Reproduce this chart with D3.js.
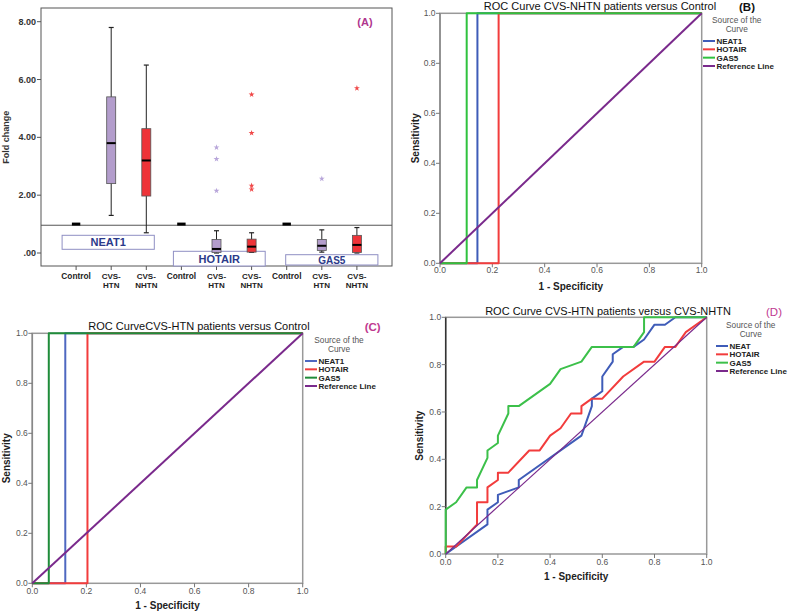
<!DOCTYPE html>
<html><head><meta charset="utf-8">
<script src="https://cdn.jsdelivr.net/npm/d3@7"></script>
<style>body{margin:0;background:#fff}svg{display:block}text{font-family:Arial,"Liberation Sans",sans-serif}</style>
</head><body><svg id="c" width="789" height="613"></svg>
<script>
// ---------- Panel A data ----------
const genes = ["NEAT1","HOTAIR","GAS5"];
const groups = ["Control","CVS-HTN","CVS-NHTN"];
const boxLow    = [1.0, 1.30, 0.70, 1.0, 0.00, 0.02, 1.0, 0.03, 0.00];
const boxQ1     = [1.0, 2.40, 1.97, 1.0, 0.02, 0.03, 1.0, 0.09, 0.02];
const boxMedian = [1.0, 3.80, 3.20, 1.0, 0.14, 0.22, 1.0, 0.25, 0.28];
const boxQ3     = [1.0, 5.40, 4.30, 1.0, 0.47, 0.48, 1.0, 0.47, 0.61];
const boxHigh   = [1.0, 7.80, 6.50, 1.0, 0.77, 0.70, 1.0, 0.80, 0.88];
const outlierIdx = [4, 4, 4, 5, 5, 5, 5, 7, 8];
const outlierVal = [3.65, 3.25, 2.15, 5.48, 4.15, 2.33, 2.20, 2.57, 5.70];
const foldTicks = [0, 2, 4, 6, 8];
const foldTickLabels = [".00", "2.00", "4.00", "6.00", "8.00"];

// ---------- ROC data ----------
const rocTicks = [0, 0.2, 0.4, 0.6, 0.8, 1.0];
const legendBC = ["NEAT1", "HOTAIR", "GAS5", "Reference Line"];
const legendD  = ["NEAT", "HOTAIR", "GAS5", "Reference Line"];
const refLine = [[0,0],[1,1]];

const rocB_NEAT1  = [[0,0],[0.143,0],[0.143,1],[1,1]];
const rocB_HOTAIR = [[0,0],[0.224,0],[0.224,1],[1,1]];
const rocB_GAS5   = [[0,0],[0.102,0],[0.102,1],[1,1]];

const rocC_NEAT1  = [[0,0],[0.122,0],[0.122,1],[1,1]];
const rocC_HOTAIR = [[0,0],[0.204,0],[0.204,1],[1,1]];
const rocC_GAS5   = [[0,0],[0.061,0],[0.061,1],[1,1]];

const rocD_NEAT = [[0,0],[0.16,0.125],[0.16,0.1875],[0.2,0.21875],[0.2,0.25],[0.28,0.28125],[0.28,0.3125],
  [0.52,0.5],[0.56,0.625],[0.56,0.65625],[0.6,0.6875],[0.6,0.75],[0.64,0.8125],[0.64,0.84375],[0.68,0.875],
  [0.72,0.875],[0.76,0.90625],[0.8,0.96875],[0.84,0.96875],[0.88,1],[1,1]];
const rocD_HOTAIR = [[0,0],[0,0.03125],[0.04,0.03125],[0.12,0.125],[0.12,0.21875],[0.16,0.21875],[0.16,0.28125],
  [0.2,0.3125],[0.2,0.34375],[0.24,0.34375],[0.32,0.4375],[0.36,0.4375],[0.4,0.5],[0.44,0.53125],[0.48,0.59375],
  [0.52,0.59375],[0.52,0.625],[0.56,0.65625],[0.6,0.65625],[0.68,0.75],[0.76,0.8125],[0.8,0.8125],[0.84,0.875],
  [0.88,0.875],[0.92,0.9375],[1,1]];
const rocD_GAS5 = [[0,0],[0,0.1875],[0.04,0.21875],[0.08,0.28125],[0.12,0.28125],[0.12,0.3125],[0.16,0.40625],
  [0.16,0.4375],[0.2,0.46875],[0.2,0.5],[0.24,0.59375],[0.24,0.625],[0.28,0.625],[0.4,0.71875],[0.44,0.78125],
  [0.52,0.8125],[0.56,0.875],[0.72,0.875],[0.76,0.9375],[0.76,1],[1,1]];

const svg = d3.select("#c");
svg.append("rect").attr("width",789).attr("height",613).attr("fill","#fff");

// ================= Panel A =================
(function(){
  const L=41, R=392, T=8, B=266;
  const cats = d3.range(genes.length*groups.length);
  const x = d3.scalePoint().domain(cats).range([L,R]).padding(1);
  const y = d3.scaleLinear().domain([0,8]).range([253,21.7]);
  const g = svg.append("g");
  const fills = ["#000","#b39dcc","#ee3338"];
  const starCol = ["#000","#b8a6da","#f04848"];

  g.append("rect").attr("x",L).attr("y",T).attr("width",R-L).attr("height",B-T)
    .attr("fill","none").attr("stroke","#555").attr("stroke-width",1);
  g.append("line").attr("x1",L).attr("x2",R).attr("y1",y(0.96)).attr("y2",y(0.96))
    .attr("stroke","#555").attr("stroke-width",1);

  foldTicks.forEach((v,i)=>{
    g.append("line").attr("x1",L-4).attr("x2",L).attr("y1",y(v)).attr("y2",y(v)).attr("stroke","#555");
    g.append("text").attr("x",L-5).attr("y",y(v)+3).attr("text-anchor","end")
      .attr("font-size",9).attr("font-weight","bold").attr("fill","#333").text(foldTickLabels[i]);
  });
  g.append("text").attr("transform",`translate(9,${y(4)}) rotate(-90)`).attr("text-anchor","middle")
    .attr("font-size",9).attr("font-weight","bold").attr("fill","#333").text("Fold change");

  cats.forEach(c=>{
    const grp = groups[c%3];
    g.append("line").attr("x1",x(c)).attr("x2",x(c)).attr("y1",B).attr("y2",B+4).attr("stroke","#555");
    if(grp==="Control"){
      g.append("text").attr("text-anchor","middle").attr("font-size",8.3).attr("font-weight","bold")
        .attr("fill","#222").attr("x",x(c)).attr("y",278.5).text(grp);
    } else {
      const parts = grp.split("-");
      g.append("text").attr("text-anchor","middle").attr("font-size",8).attr("font-weight","bold")
        .attr("fill","#222").attr("x",x(c)).attr("y",278.5).text(parts[0]+"-");
      g.append("text").attr("text-anchor","middle").attr("font-size",8).attr("font-weight","bold")
        .attr("fill","#222").attr("x",x(c)).attr("y",287.5).text(parts[1]);
    }
  });

  const lb = [
    {name:genes[0], x0:x(0)-14, x1:x(2)+8, y0:235.3, y1:249.3},
    {name:genes[1], x0:x(3)-8, x1:x(5)+13.6, y0:251.3, y1:266},
    {name:genes[2], x0:x(6)-1, x1:x(8)+21, y0:254.7, y1:265}
  ];
  lb.forEach(d=>{
    g.append("rect").attr("x",d.x0).attr("y",d.y0).attr("width",d.x1-d.x0).attr("height",d.y1-d.y0)
      .attr("fill","#fff").attr("stroke","#8f8fc4").attr("stroke-width",1);
    g.append("text").attr("x",(d.x0+d.x1)/2).attr("y",(d.y0+d.y1)/2+4).attr("text-anchor","middle")
      .attr("font-size",d.name==="GAS5"?10:11).attr("font-weight","bold").attr("fill","#2b3a8a").text(d.name);
  });

  const bw = 9, cw = 5;
  cats.forEach(c=>{
    const k = c%3, cx = x(c);
    if(k===0){
      g.append("rect").attr("x",cx-4.2).attr("y",y(boxMedian[c])-1.5).attr("width",8.4).attr("height",3).attr("fill","#000");
      return;
    }
    g.append("line").attr("x1",cx).attr("x2",cx).attr("y1",y(boxHigh[c])).attr("y2",y(boxLow[c])).attr("stroke","#222");
    g.append("line").attr("x1",cx-cw/2).attr("x2",cx+cw/2).attr("y1",y(boxHigh[c])).attr("y2",y(boxHigh[c])).attr("stroke","#222").attr("stroke-width",1.2);
    g.append("line").attr("x1",cx-cw/2).attr("x2",cx+cw/2).attr("y1",y(boxLow[c])).attr("y2",y(boxLow[c])).attr("stroke","#222").attr("stroke-width",1.2);
    g.append("rect").attr("x",cx-bw/2).attr("y",y(boxQ3[c])).attr("width",bw).attr("height",y(boxQ1[c])-y(boxQ3[c]))
      .attr("fill",fills[k]).attr("stroke","#555").attr("stroke-width",0.8);
    g.append("line").attr("x1",cx-bw/2).attr("x2",cx+bw/2).attr("y1",y(boxMedian[c])).attr("y2",y(boxMedian[c]))
      .attr("stroke","#000").attr("stroke-width",2);
  });

  const star = d3.symbol().type(d3.symbolStar).size(11);
  outlierIdx.forEach((c,i)=>{
    g.append("path").attr("d",star).attr("transform",`translate(${x(c)},${y(outlierVal[i])})`)
      .attr("fill",starCol[c%3]);
  });

  g.append("text").attr("x",365).attr("y",26).attr("text-anchor","middle").attr("font-size",11)
    .attr("font-weight","bold").attr("fill","#b0368e").text("(A)");
})();

// ================= ROC panels =================
function rocPanel(cfg){
  const g = svg.append("g");
  const x = d3.scaleLinear().domain([0,1]).range([cfg.l,cfg.r]);
  const y = d3.scaleLinear().domain([0,1]).range([cfg.b,cfg.t]);
  g.append("rect").attr("x",cfg.l).attr("y",cfg.t).attr("width",cfg.r-cfg.l).attr("height",cfg.b-cfg.t)
    .attr("fill","none").attr("stroke","#999").attr("stroke-width",1.5);
  g.append("line").attr("x1",cfg.l).attr("x2",cfg.l).attr("y1",cfg.t).attr("y2",cfg.b).attr("stroke",cfg.axisCol).attr("stroke-width",1.5);
  const fmt = d3.format(".1f");
  rocTicks.forEach(v=>{
    g.append("line").attr("x1",cfg.l-4).attr("x2",cfg.l).attr("y1",y(v)).attr("y2",y(v)).attr("stroke","#777");
    g.append("text").attr("x",cfg.l-4.5).attr("y",y(v)+3).attr("text-anchor","end").attr("font-size",8.5)
      .attr("fill","#555").text(fmt(v));
    g.append("line").attr("x1",x(v)).attr("x2",x(v)).attr("y1",cfg.b).attr("y2",cfg.b+4).attr("stroke","#777");
    g.append("text").attr("x",x(v)).attr("y",cfg.tickY).attr("text-anchor","middle").attr("font-size",8.5)
      .attr("fill","#555").text(fmt(v));
  });
  const line = d3.line().x(d=>x(d[0])).y(d=>y(d[1]));
  cfg.curves.forEach((c,i)=>{
    g.append("path").datum(c).attr("d",line).attr("fill","none").attr("stroke",cfg.colors[i])
      .attr("stroke-width",2).attr("stroke-linejoin","round");
  });
  g.append("path").datum(refLine).attr("d",line).attr("fill","none").attr("stroke",cfg.colors[3]).attr("stroke-width",cfg.refW);

  g.append("text").attr("x",cfg.titleX).attr("y",cfg.titleY).attr("text-anchor","middle")
    .attr("font-size",11).attr("fill","#111").text(cfg.title);
  g.append("text").attr("x",cfg.tagX).attr("y",cfg.titleY+1).attr("text-anchor","middle")
    .attr("font-size",11.5).attr("font-weight",cfg.tagBold?"bold":"normal").attr("fill",cfg.tagCol).text(cfg.tag);
  g.append("text").attr("transform",`translate(${cfg.yLabX},${(cfg.t+cfg.b)/2}) rotate(-90)`).attr("text-anchor","middle")
    .attr("font-size",10).attr("font-weight","bold").attr("fill","#222").attr("dy","0.35em").text("Sensitivity");
  g.append("text").attr("x",(cfg.l+cfg.r)/2).attr("y",cfg.xLabY).attr("text-anchor","middle")
    .attr("font-size",10).attr("font-weight","bold").attr("fill","#222").text("1 - Specificity");

  g.append("text").attr("x",cfg.legX).attr("y",cfg.legY-0.5).attr("text-anchor","middle").attr("font-size",8.3)
    .attr("fill","#555").text("Source of the");
  g.append("text").attr("x",cfg.legX).attr("y",cfg.legY+8.8).attr("text-anchor","middle").attr("font-size",8.3)
    .attr("fill","#555").text("Curve");
  cfg.legend.forEach((name,i)=>{
    const yy = cfg.rowY + i*8.33;
    g.append("line").attr("x1",cfg.lineX).attr("x2",cfg.lineX+12).attr("y1",yy).attr("y2",yy)
      .attr("stroke",cfg.colors[i]).attr("stroke-width",2);
    g.append("text").attr("x",cfg.lineX+13.5).attr("y",yy+3).attr("font-size",8).attr("font-weight","bold")
      .attr("fill","#222").text(name);
  });
}

rocPanel({l:440,r:701.7,t:13.3,b:263.3,tickY:273,xLabY:290,yLabX:415,axisCol:"#888",
  curves:[rocB_NEAT1,rocB_HOTAIR,rocB_GAS5], colors:["#3f5cb8","#f23c3c","#2fc23f","#7a2a8c"], refW:2,
  title:"ROC Curve CVS-NHTN patients versus Control", titleX:600, titleY:10,
  tag:"(B)", tagX:747, tagBold:true, tagCol:"#111",
  legX:736.7, legY:23.5, rowY:41, lineX:703, legend:legendBC});

rocPanel({l:32.3,r:302.7,t:333.3,b:583.3,tickY:593.5,xLabY:609,yLabX:6,axisCol:"#888",
  curves:[rocC_NEAT1,rocC_HOTAIR,rocC_GAS5], colors:["#4f68c0","#f23c3c","#1f8c3a","#7a2a8c"], refW:2,
  title:"ROC CurveCVS-HTN patients versus Control", titleX:199, titleY:330,
  tag:"(C)", tagX:372.7, tagBold:true, tagCol:"#c0388f",
  legX:339, legY:343.5, rowY:361, lineX:305, legend:legendBC});

rocPanel({l:445.7,r:706.7,t:317.3,b:554,tickY:564.5,xLabY:580,yLabX:419.3,axisCol:"#333",
  curves:[rocD_NEAT,rocD_HOTAIR,rocD_GAS5], colors:["#3f5cb8","#f23c3c","#3cc04a","#7a2a8c"], refW:1.2,
  title:"ROC Curve CVS-HTN patients versus CVS-NHTN", titleX:608, titleY:315,
  tag:"(D)", tagX:774, tagBold:false, tagCol:"#c0388f",
  legX:750.7, legY:328.5, rowY:346, lineX:716, legend:legendD});
</script></body></html>
